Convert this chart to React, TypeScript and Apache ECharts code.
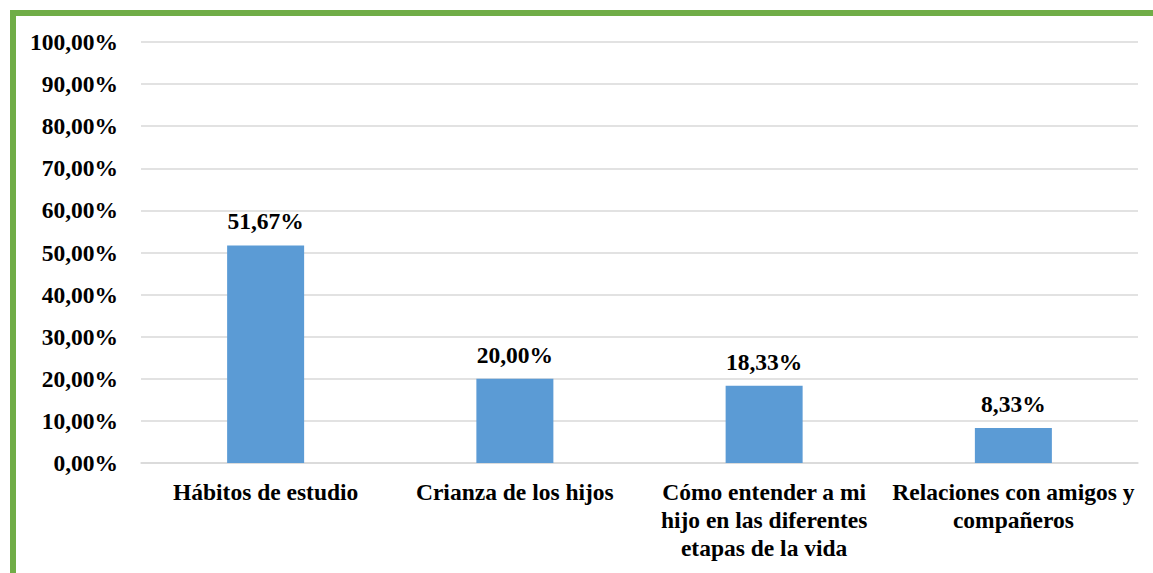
import React, { useEffect, useRef } from "react";
import * as echarts from "echarts";

const categories = [
  "Hábitos de estudio",
  "Crianza de los hijos",
  "Cómo entender a mi\nhijo en las diferentes\netapas de la vida",
  "Relaciones con amigos y\ncompañeros",
];
const values = [51.67, 20.0, 18.33, 8.33];
const yTicks = [0, 10, 20, 30, 40, 50, 60, 70, 80, 90, 100];

const fmt = (v: number) => v.toFixed(2).replace(".", ",") + "%";
const FONT = "Liberation Serif";
const FS = 23.5;

export default function App() {
  const ref = useRef<HTMLDivElement>(null);
  useEffect(() => {
    const chart = echarts.init(ref.current!, null, { renderer: "svg" });
    chart.setOption({
      animation: false,
      backgroundColor: "#ffffff",
      textStyle: { fontFamily: FONT },
      graphic: [
        { type: "rect", shape: { x: 10, y: 10, width: 1143, height: 6 }, style: { fill: "#70AD47" } },
        { type: "rect", shape: { x: 10, y: 10, width: 6, height: 563 }, style: { fill: "#70AD47" } },
      ],
      grid: { left: 141, right: 15, top: 42, bottom: 110, containLabel: false },
      xAxis: {
        type: "category",
        data: categories,
        axisTick: { show: false },
        axisLine: { show: true, lineStyle: { color: "#D9D9D9", width: 1.5 } },
        axisLabel: {
          interval: 0,
          margin: 15,
          color: "#000",
          fontFamily: FONT,
          fontWeight: "bold",
          fontSize: FS,
          lineHeight: 28,
        },
      },
      yAxis: {
        type: "value",
        min: yTicks[0],
        max: yTicks[yTicks.length - 1],
        interval: 10,
        axisLine: { show: false },
        axisTick: { show: false },
        splitLine: { lineStyle: { color: "#D9D9D9", width: 1.5 } },
        axisLabel: {
          margin: 23,
          color: "#000",
          fontFamily: FONT,
          fontWeight: "bold",
          fontSize: FS,
          formatter: (v: number) => fmt(v),
        },
      },
      series: [
        {
          type: "bar",
          data: values,
          barWidth: 77,
          itemStyle: { color: "#5B9BD5" },
          label: {
            show: true,
            position: "top",
            distance: 12,
            color: "#000",
            fontFamily: FONT,
            fontWeight: "bold",
            fontSize: FS,
            formatter: (p: any) => fmt(p.value),
          },
        },
      ],
    });
    return () => chart.dispose();
  }, []);
  return (
    <div
      ref={ref}
      style={{ position: "fixed", left: 0, top: 0, width: 1153, height: 573 }}
    />
  );
}
